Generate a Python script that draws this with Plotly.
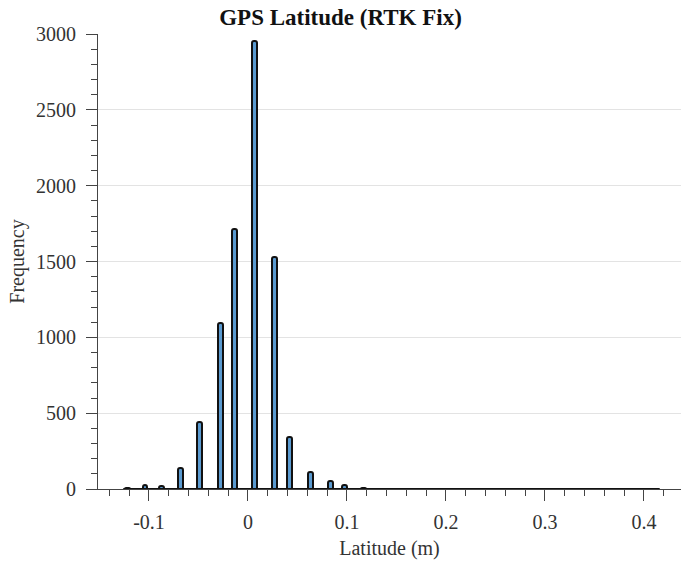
import plotly.graph_objects as go

# Histogram data (bin centers in m, counts)
bin_centers = [-0.122, -0.104, -0.087, -0.068, -0.0485, -0.028, -0.014,
               0.007, 0.027, 0.042, 0.063, 0.083, 0.098, 0.117, 0.413]
counts = [6, 25, 20, 140, 440, 1095, 1715, 2955, 1530, 342, 110, 50, 28, 5, 2]
bin_width = 0.005
hist_range = [-0.126, 0.416]

x_tickvals = [-0.1, 0, 0.1, 0.2, 0.3, 0.4]
x_ticktext = ["-0.1", "0", "0.1", "0.2", "0.3", "0.4"]
y_tickvals = [0, 500, 1000, 1500, 2000, 2500, 3000]

FONT = "Liberation Serif, Times New Roman, serif"

fig = go.Figure()
# baseline of histogram (zero-count bins outline)
fig.add_trace(go.Scatter(
    x=hist_range, y=[0, 0], mode="lines",
    line=dict(color="#111111", width=2), hoverinfo="skip", showlegend=False,
))
fig.add_trace(go.Bar(
    x=bin_centers, y=counts, width=bin_width,
    marker=dict(color="#5a9ad0", line=dict(color="#111111", width=2), cornerradius=2),
    showlegend=False,
))

fig.update_layout(
    width=681, height=567,
    margin=dict(l=98, r=0, t=34, b=78),
    paper_bgcolor="white", plot_bgcolor="white",
    font=dict(family=FONT, size=20, color="#333333"),
    title=dict(text="<b>GPS Latitude (RTK Fix)</b>", x=0.5, xanchor="center",
               y=1 - 17 / 567, yanchor="middle",
               font=dict(family=FONT, size=23, color="#111111")),
    bargap=0,
)
fig.update_xaxes(
    range=[-0.1515, 0.4375],
    tickvals=x_tickvals, ticktext=x_ticktext,
    ticks="outside", ticklen=11, tickwidth=1, tickcolor="#444444",
    minor=dict(dtick=0.02, tick0=0, ticks="outside", ticklen=6, tickcolor="#444444", showgrid=False),
    showline=True, linecolor="#444444", linewidth=1,
    showgrid=False, zeroline=False,
    title=dict(text="Latitude (m)", font=dict(family=FONT, size=20, color="#333333"), standoff=8),
    ticklabelstandoff=4,
)
fig.update_yaxes(
    range=[0, 3000],
    tickvals=y_tickvals,
    ticks="outside", ticklen=11, tickwidth=1, tickcolor="#444444",
    minor=dict(dtick=100, tick0=0, ticks="outside", ticklen=6, tickcolor="#444444", showgrid=False),
    showline=True, linecolor="#444444", linewidth=1,
    showgrid=True, gridcolor="#e3e3e3", gridwidth=1, zeroline=False,
    title=dict(text="Frequency", font=dict(family=FONT, size=20, color="#333333"), standoff=6),
    ticklabelstandoff=6,
)

fig.write_html("out.html")
